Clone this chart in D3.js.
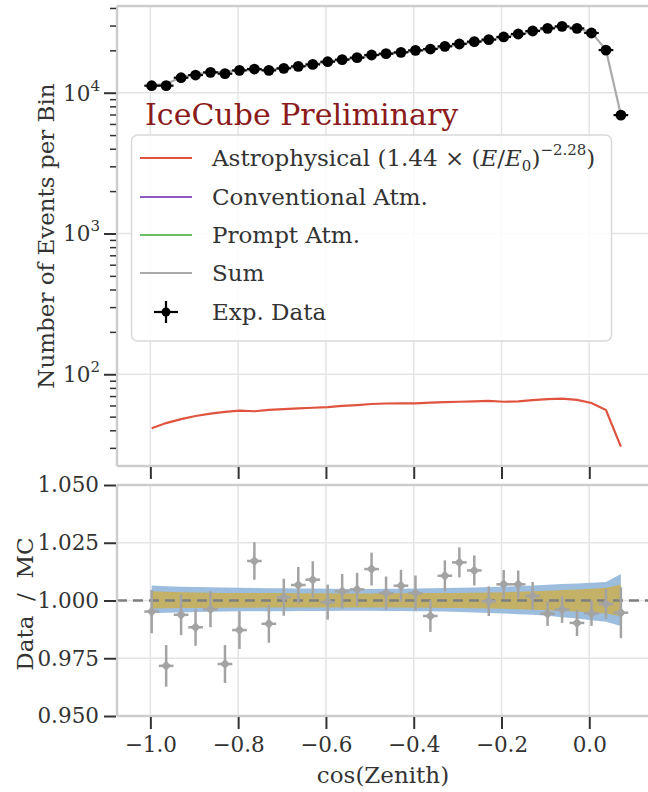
<!DOCTYPE html>
<html><head><meta charset="utf-8">
<script src="https://cdn.jsdelivr.net/npm/d3@7"></script>
<style>body{margin:0;background:#fff}svg{display:block}</style>
</head><body><div id="c"></div>
<script>
// ---------- data ----------
const cosZ = [-0.997,-0.964,-0.930,-0.897,-0.863,-0.830,-0.797,-0.763,-0.730,-0.696,-0.663,-0.630,-0.596,-0.563,-0.529,-0.496,-0.463,-0.429,-0.396,-0.362,-0.329,-0.296,-0.262,-0.229,-0.195,-0.162,-0.129,-0.095,-0.062,-0.028,0.005,0.038,0.072];
const dataCounts = [11215,11220,12780,13350,13950,13650,14410,14730,14410,14900,15390,15890,16600,17170,17740,18530,18940,19360,20000,20430,21340,22180,23050,23820,24890,26130,27430,28650,29620,28650,26560,20090,6934];
const sumCounts = [11270,11550,12860,13510,14010,14040,14460,14490,14560,14880,15290,15760,16610,17100,17660,18280,18880,19240,19740,20180,21230,22020,22950,23690,24730,25950,27300,28550,29650,28760,26820,20140,6970];
const astroCounts = [41.3,45.0,48.0,50.5,52.5,54.0,55.2,54.6,55.8,56.5,57.2,57.8,58.4,59.6,60.4,61.5,62.0,62.2,62.2,62.9,63.4,63.8,64.2,64.6,63.8,64.2,65.4,66.5,67.2,65.7,62.5,55.7,30.6];
const ratio = [0.9952,0.9717,0.9938,0.9884,0.9962,0.9725,0.9872,1.0171,0.9899,1.0014,1.0067,1.0090,0.9993,1.0040,1.0048,1.0136,1.0032,1.0064,1.0032,0.9933,1.0107,1.0165,1.0130,0.9997,1.0070,1.0070,1.0020,0.9943,0.9961,0.9903,0.9945,0.9985,0.9947];
const ratioErr = [0.0094,0.0090,0.0088,0.0080,0.0078,0.0082,0.0082,0.0081,0.0082,0.0080,0.0078,0.0080,0.0076,0.0075,0.0072,0.0071,0.0072,0.0069,0.0076,0.0069,0.0067,0.0065,0.0065,0.0064,0.0062,0.0060,0.0060,0.0053,0.0058,0.0057,0.0055,0.0065,0.0110];
const blueHi = [0.0065,0.0062,0.0060,0.0058,0.0057,0.0056,0.0055,0.0054,0.0053,0.0053,0.0052,0.0052,0.0051,0.0050,0.0050,0.0050,0.0051,0.0051,0.0052,0.0053,0.0054,0.0055,0.0056,0.0058,0.0060,0.0062,0.0065,0.0068,0.0071,0.0074,0.0077,0.0080,0.0115];
const blueLo = [0.0055,0.0053,0.0052,0.0050,0.0049,0.0048,0.0047,0.0047,0.0046,0.0046,0.0045,0.0045,0.0045,0.0044,0.0044,0.0044,0.0045,0.0045,0.0046,0.0047,0.0048,0.0050,0.0052,0.0054,0.0056,0.0059,0.0062,0.0066,0.0072,0.0078,0.0085,0.0092,0.0110];
const yelHi = [0.0040,0.0038,0.0036,0.0035,0.0034,0.0033,0.0033,0.0032,0.0032,0.0032,0.0031,0.0031,0.0031,0.0030,0.0030,0.0030,0.0031,0.0031,0.0031,0.0032,0.0032,0.0033,0.0034,0.0035,0.0036,0.0038,0.0040,0.0042,0.0045,0.0048,0.0051,0.0055,0.0068];
const yelLo = [0.0035,0.0034,0.0033,0.0032,0.0032,0.0031,0.0031,0.0031,0.0030,0.0030,0.0030,0.0030,0.0030,0.0030,0.0030,0.0030,0.0030,0.0030,0.0031,0.0031,0.0032,0.0033,0.0034,0.0035,0.0036,0.0038,0.0040,0.0042,0.0045,0.0048,0.0052,0.0056,0.0068];
const binHalf = 0.0167;
const xTicks = [-1.0,-0.8,-0.6,-0.4,-0.2,0.0];
const yTopMajor = [100,1000,10000];
const yTopMinor = [30,40,50,60,70,80,90,200,300,400,500,600,700,800,900,2000,3000,4000,5000,6000,7000,8000,9000,20000,30000,40000];
const yBotTicks = [0.950,0.975,1.000,1.025,1.050];
const legendLabels = ["Astrophysical","Conventional Atm.","Prompt Atm.","Sum","Exp. Data"];
const colors = {astro:"#e0533f", conv:"#8c5cc4", prompt:"#6abf69", sum:"#aaaaaa", data:"#000", ratio:"#a3a3a3", blue:"#98b9dc", yel:"#c6b061"};

// ---------- layout ----------
const W=648,H=792, FONT="'DejaVu Serif', serif";
const svg = d3.select("#c").append("svg").attr("width",W).attr("height",H).style("font-family",FONT);
const L=117, R=656, T1=6, B1=466, T2=485, B2=716;
const x = d3.scaleLinear().domain([-1.076,0.152]).range([L,R]);
const yT = d3.scaleLog().domain([22.3,41300]).range([B1,T1]);
const yB = d3.scaleLinear().domain([0.95,1.05]).range([B2,T2]);
const gridC="#e4e4e4", spineC="#cdcdcd", tickC="#333", txtC="#333";

svg.append("defs").append("clipPath").attr("id","cp1").append("rect").attr("x",L).attr("y",T1).attr("width",R-L).attr("height",B1-T1);
svg.select("defs").append("clipPath").attr("id","cp2").append("rect").attr("x",L).attr("y",T2).attr("width",R-L).attr("height",B2-T2);

// ---------- top panel ----------
const g1 = svg.append("g");
g1.selectAll(".gx").data(xTicks).join("line").attr("x1",d=>x(d)).attr("x2",d=>x(d)).attr("y1",T1).attr("y2",B1).attr("stroke",gridC).attr("stroke-width",1.5);
g1.selectAll(".gy").data(yTopMajor).join("line").attr("x1",L).attr("x2",R).attr("y1",d=>yT(d)).attr("y2",d=>yT(d)).attr("stroke",gridC).attr("stroke-width",1.5);

const p1 = g1.append("g").attr("clip-path","url(#cp1)");
p1.append("path").datum(astroCounts).attr("fill","none").attr("stroke",colors.astro).attr("stroke-width",2.2)
  .attr("d",d3.line().x((d,i)=>x(cosZ[i])).y(d=>yT(d)));
p1.append("path").datum(sumCounts).attr("fill","none").attr("stroke",colors.sum).attr("stroke-width",2.2)
  .attr("d",d3.line().x((d,i)=>x(cosZ[i])).y(d=>yT(d)));
p1.selectAll(".xe").data(dataCounts).join("line").attr("x1",(d,i)=>x(cosZ[i]-binHalf)).attr("x2",(d,i)=>x(cosZ[i]+binHalf))
  .attr("y1",d=>yT(d)).attr("y2",d=>yT(d)).attr("stroke","#000").attr("stroke-width",2.2);
p1.selectAll(".pt").data(dataCounts).join("circle").attr("cx",(d,i)=>x(cosZ[i])).attr("cy",d=>yT(d)).attr("r",5.4).attr("fill","#000");

// spines
g1.append("line").attr("x1",L).attr("x2",L).attr("y1",T1).attr("y2",B1).attr("stroke",spineC).attr("stroke-width",2.5);
g1.append("line").attr("x1",L).attr("x2",W+10).attr("y1",T1).attr("y2",T1).attr("stroke",spineC).attr("stroke-width",2.5);
g1.append("line").attr("x1",L).attr("x2",W+10).attr("y1",B1).attr("y2",B1).attr("stroke",spineC).attr("stroke-width",2.5);

// top panel x ticks (no labels)
const ax1 = g1.append("g").attr("transform",`translate(0,${B1+1})`).call(d3.axisBottom(x).tickValues(xTicks).tickSize(12).tickFormat(""));
ax1.select(".domain").remove();
ax1.selectAll(".tick line").attr("stroke",tickC).attr("stroke-width",2);

// y ticks log
const ay1 = g1.append("g").attr("transform",`translate(${L-1},0)`).call(d3.axisLeft(yT).tickValues(yTopMajor).tickSize(12).tickFormat(""));
ay1.select(".domain").remove();
ay1.selectAll(".tick line").attr("stroke",tickC).attr("stroke-width",2);
const ay1m = g1.append("g").attr("transform",`translate(${L-1},0)`).call(d3.axisLeft(yT).tickValues(yTopMinor).tickSize(6).tickFormat(""));
ay1m.select(".domain").remove();
ay1m.selectAll(".tick line").attr("stroke",tickC).attr("stroke-width",1.5);
yTopMajor.forEach(v=>{
  const e = Math.round(Math.log10(v));
  const t = g1.append("text").attr("x",L-17).attr("y",yT(v)+8).attr("text-anchor","end").attr("fill",txtC).attr("font-size",21.5);
  t.append("tspan").text("10");
  t.append("tspan").attr("dy",-10).attr("font-size",15).text(e);
});

// legend
const lg = g1.append("g");
lg.append("rect").attr("x",131.5).attr("y",135).attr("width",480).attr("height",206).attr("rx",6)
  .attr("fill","#fff").attr("fill-opacity",0.85).attr("stroke","#d9d9d9").attr("stroke-width",1.5);
const rowY = [158,197,235,273,312];
const legC = [colors.astro,colors.conv,colors.prompt,colors.sum];
legC.forEach((c,i)=>{
  lg.append("line").attr("x1",140).attr("x2",192).attr("y1",rowY[i]).attr("y2",rowY[i]).attr("stroke",c).attr("stroke-width",2.2);
});
lg.append("line").attr("x1",154).attr("x2",178).attr("y1",rowY[4]).attr("y2",rowY[4]).attr("stroke","#000").attr("stroke-width",2.2);
lg.append("line").attr("x1",166).attr("x2",166).attr("y1",rowY[4]-11).attr("y2",rowY[4]+11).attr("stroke","#000").attr("stroke-width",2.2);
lg.append("circle").attr("cx",166).attr("cy",rowY[4]).attr("r",4.5).attr("fill","#000");
legendLabels.forEach((s,i)=>{
  const t = lg.append("text").attr("x",212).attr("y",rowY[i]+8).attr("fill",txtC).attr("font-size",23);
  if(i===0){
    t.append("tspan").text("Astrophysical (1.44 × (");
    t.append("tspan").attr("font-style","italic").text("E");
    t.append("tspan").text("/");
    t.append("tspan").attr("font-style","italic").text("E");
    t.append("tspan").attr("font-size",15).attr("dy",5).text("0");
    t.append("tspan").attr("dy",-5).text(")");
    t.append("tspan").attr("font-size",15).attr("dy",-11).text("−2.28");
    t.append("tspan").attr("dy",11).text(")");
  } else t.text(s);
});

g1.append("text").attr("x",145).attr("y",125).attr("fill","#8b1a1a").attr("font-size",30).text("IceCube Preliminary");

// ---------- bottom panel ----------
const g2 = svg.append("g");
g2.selectAll(".gx").data(xTicks).join("line").attr("x1",d=>x(d)).attr("x2",d=>x(d)).attr("y1",T2).attr("y2",B2).attr("stroke",gridC).attr("stroke-width",1.5);
g2.selectAll(".gy").data(yBotTicks).join("line").attr("x1",L).attr("x2",R).attr("y1",d=>yB(d)).attr("y2",d=>yB(d)).attr("stroke",gridC).attr("stroke-width",1.5);

const p2 = g2.append("g").attr("clip-path","url(#cp2)");
p2.append("path").datum(cosZ).attr("fill",colors.blue).attr("fill-opacity",0.95)
  .attr("d",d3.area().x(d=>x(d)).y0((d,i)=>yB(1-blueLo[i])).y1((d,i)=>yB(1+blueHi[i])));
p2.append("path").datum(cosZ).attr("fill",colors.yel).attr("fill-opacity",0.95)
  .attr("d",d3.area().x(d=>x(d)).y0((d,i)=>yB(1-yelLo[i])).y1((d,i)=>yB(1+yelHi[i])));
p2.append("line").attr("x1",L).attr("x2",W+10).attr("y1",yB(1)).attr("y2",yB(1)).attr("stroke","#7f7f7f").attr("stroke-width",2.5).attr("stroke-dasharray","10,6");
p2.selectAll(".ye").data(ratio).join("line").attr("x1",(d,i)=>x(cosZ[i])).attr("x2",(d,i)=>x(cosZ[i]))
  .attr("y1",(d,i)=>yB(d-ratioErr[i])).attr("y2",(d,i)=>yB(d+ratioErr[i])).attr("stroke",colors.ratio).attr("stroke-width",2.5);
p2.selectAll(".xe").data(ratio).join("line").attr("x1",(d,i)=>x(cosZ[i]-binHalf)).attr("x2",(d,i)=>x(cosZ[i]+binHalf))
  .attr("y1",d=>yB(d)).attr("y2",d=>yB(d)).attr("stroke",colors.ratio).attr("stroke-width",2.5);
p2.selectAll(".mk").data(ratio).join("path").attr("d",d3.symbol(d3.symbolSquare,50)())
  .attr("transform",(d,i)=>`translate(${x(cosZ[i])},${yB(d)}) rotate(45)`).attr("fill",colors.ratio);

g2.append("line").attr("x1",L).attr("x2",L).attr("y1",T2).attr("y2",B2).attr("stroke",spineC).attr("stroke-width",2.5);
g2.append("line").attr("x1",L).attr("x2",W+10).attr("y1",T2).attr("y2",T2).attr("stroke",spineC).attr("stroke-width",2.5);
g2.append("line").attr("x1",L).attr("x2",W+10).attr("y1",B2).attr("y2",B2).attr("stroke",spineC).attr("stroke-width",2.5);

const ax2 = g2.append("g").attr("transform",`translate(0,${B2+1})`).call(d3.axisBottom(x).tickValues(xTicks).tickSize(12).tickPadding(8).tickFormat(d3.format(".1f")));
ax2.select(".domain").remove();
ax2.selectAll(".tick line").attr("stroke",tickC).attr("stroke-width",2);
ax2.selectAll(".tick text").attr("fill",txtC).attr("font-size",21.5).attr("font-family",FONT);

const ay2 = g2.append("g").attr("transform",`translate(${L-1},0)`).call(d3.axisLeft(yB).tickValues(yBotTicks).tickSize(12).tickPadding(5).tickFormat(d3.format(".3f")));
ay2.select(".domain").remove();
ay2.selectAll(".tick line").attr("stroke",tickC).attr("stroke-width",2);
ay2.selectAll(".tick text").attr("fill",txtC).attr("font-size",21.5).attr("font-family",FONT);

// axis titles
svg.append("text").attr("transform","translate(54,236) rotate(-90)").attr("text-anchor","middle").attr("fill",txtC).attr("font-size",23).text("Number of Events per Bin");
svg.append("text").attr("transform","translate(33,604) rotate(-90)").attr("text-anchor","middle").attr("fill",txtC).attr("font-size",23).attr("xml:space","preserve").text("Data  /  MC");
svg.append("text").attr("x",383).attr("y",783).attr("text-anchor","middle").attr("fill",txtC).attr("font-size",23).text("cos(Zenith)");
</script></body></html>
